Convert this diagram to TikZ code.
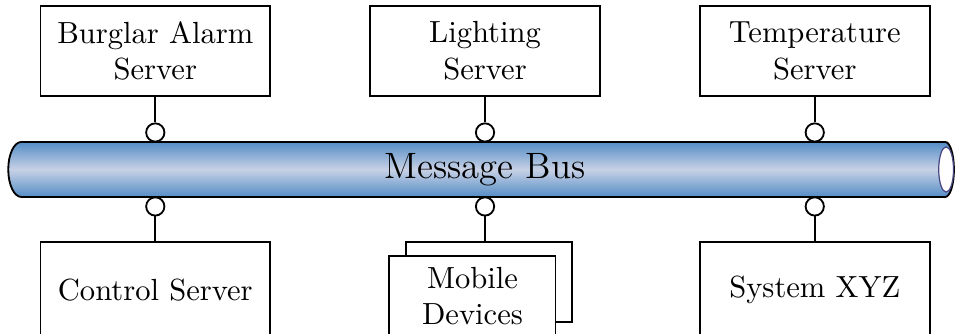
\documentclass[tikz,border=0pt]{standalone}
\usepackage{tikz}
\usetikzlibrary{calc}
\usepackage{color}
\definecolor{busblue}{RGB}{84, 141, 198}
\definecolor{buslight}{RGB}{200, 209, 229}
\definecolor{busend}{RGB}{70, 70, 130}

\begin{document}
\begin{tikzpicture}[
        server/.style={draw, semithick, fill=white, align=center, minimum width=2.64cm, minimum height=1.04cm, inner sep=2pt},
        client/.style={server, minimum height=1.10cm},
        mobilebox/.style={server, minimum width=1.91cm, minimum height=0.92cm},
        plug/.style={draw, semithick, fill=white, circle, minimum size=0.21cm, inner sep=0pt},
        wire/.style={semithick}
    ]
            % Frame to fix the page size:
            \useasboundingbox                                                 (-5.575, 1.948) rectangle (5.402, -1.891);
            % Message bus (cylinder)
            \shade[top color=busblue, bottom color=busblue, middle color=buslight, draw, semithick]
                  (-5.33, 0.316) -- (5.29, 0.316) arc[start angle=90, end angle=-90, x radius=0.10, y radius=0.316]
                  -- (-5.33,-0.316) arc[start angle=270, end angle=90, x radius=0.15, y radius=0.316] -- cycle;
            \filldraw[fill=white, draw=busend, thin]                          ( 5.30, 0.00) ellipse [x radius=0.085, y radius=0.26];
            \node[minimum width=10.6cm, minimum height=0.632cm] (bus)         at ( 0.00, 0.00) {\large Message Bus};
            % Servers above the bus
            \node[server] (burglar)     at (-3.79, 1.362) {Burglar Alarm\\Server};
            \node[server] (lighting)    at ( 0.00, 1.362) {Lighting\\Server};
            \node[server] (temperature) at ( 3.79, 1.362) {Temperature\\Server};
            % Clients below the bus
            \node[client] (control)     at (-3.79,-1.383) {Control Server};
            \node[mobilebox] (mobback)  at ( 0.046,-1.293) {};
            \node[mobilebox] (mobile)   at (-0.144,-1.454) {Mobile\\Devices};
            \node[client] (system)      at ( 3.79,-1.383) {System XYZ};
            % Plugs on the bus
            \node[plug] (pburglar)      at (-3.79, 0.425) {};
            \node[plug] (plighting)     at ( 0.00, 0.425) {};
            \node[plug] (ptemperature)  at ( 3.79, 0.425) {};
            \node[plug] (pcontrol)      at (-3.79,-0.425) {};
            \node[plug] (pmobile)       at ( 0.00,-0.425) {};
            \node[plug] (psystem)       at ( 3.79,-0.425) {};
            % Wires
            \draw[wire] (burglar.south)     -- (pburglar.north);
            \draw[wire] (lighting.south)    -- (plighting.north);
            \draw[wire] (temperature.south) -- (ptemperature.north);
            \draw[wire] (pcontrol.south)    -- (control.north);
            \draw[wire] (pmobile.south)     -- (pmobile.south |- mobback.north);
            \draw[wire] (psystem.south)     -- (system.north);
\end{tikzpicture}
\end{document}
